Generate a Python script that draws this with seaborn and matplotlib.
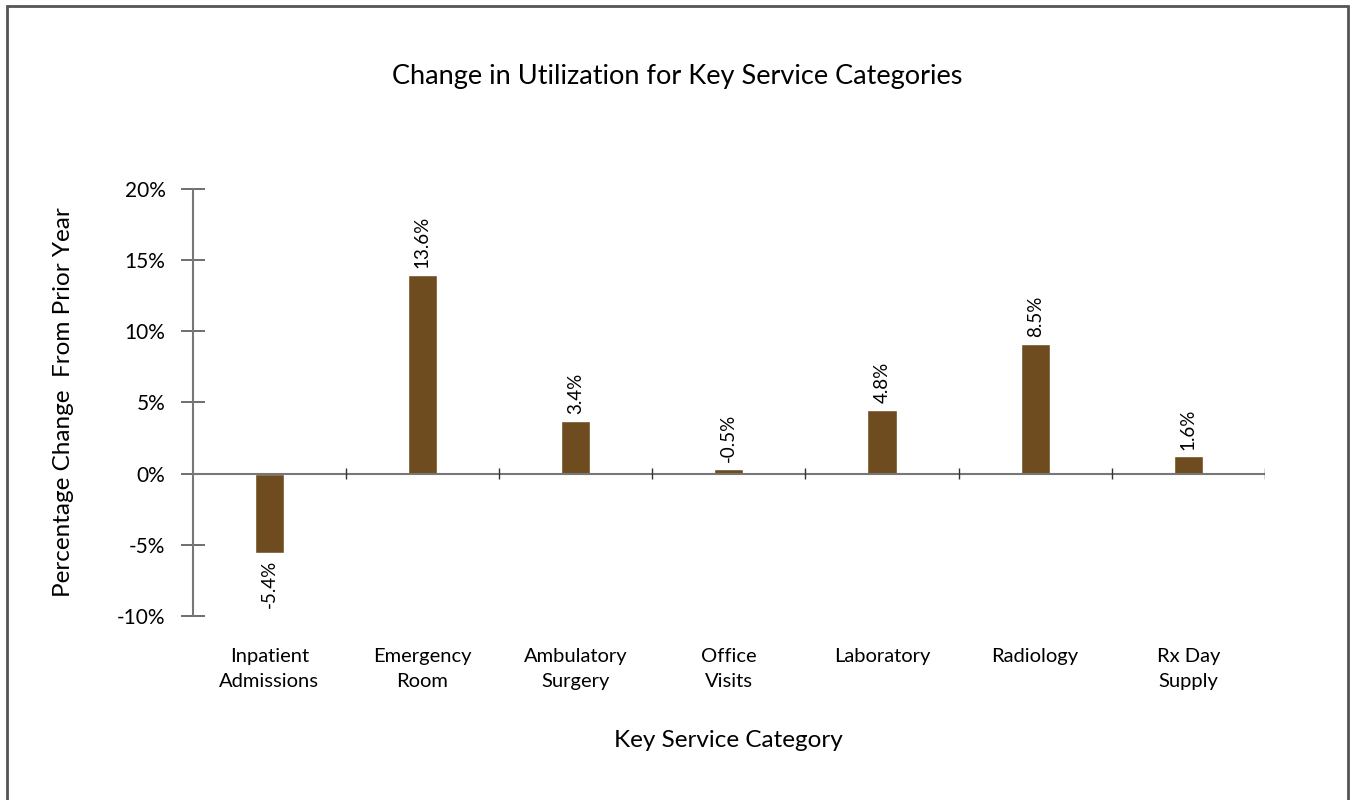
import pandas as pd
import matplotlib.pyplot as plt
import matplotlib.patches as mpatches
import seaborn as sns

# ----------- DONNÉES ------------
categories = ['Inpatient\nAdmissions', 'Emergency\nRoom', 'Ambulatory\nSurgery',
              'Office\nVisits', 'Laboratory', 'Radiology', 'Rx Day\nSupply']
bar_values = [-5.6, 14.0, 3.7, 0.3, 4.5, 9.1, 1.2]
bar_labels = ['-5.4%', '13.6%', '3.4%', '-0.5%', '4.8%', '8.5%', '1.6%']
y_ticks = [-10, -5, 0, 5, 10, 15, 20]

df = pd.DataFrame({'category': categories, 'value': bar_values})

sns.set_style('white')
plt.rcParams['font.family'] = ['Lato', 'DejaVu Sans']
plt.rcParams['text.color'] = 'black'
plt.rcParams['axes.labelcolor'] = 'black'
plt.rcParams['xtick.color'] = 'black'
plt.rcParams['ytick.color'] = 'black'

fig = plt.figure(figsize=(13.51, 8), dpi=100)
ax = fig.add_axes([0.1426, 0.2304, 0.7937, 0.533])

sns.barplot(data=df, x='category', y='value', color='#6e4c20', width=0.19,
            saturation=1, ax=ax)

ax.set_ylim(-10, 20)
ax.set_xlim(-0.5, len(categories) - 0.5)
ax.set_yticks(y_ticks)
ax.set_yticklabels([f'{v}%' for v in y_ticks], fontsize=15)
ax.tick_params(axis='y', left=True, direction='inout', length=17, width=1.2,
               color='#555555', pad=11)
ax.tick_params(axis='x', bottom=False, length=0, pad=23)
for lbl in ax.get_xticklabels():
    lbl.set_fontsize(14.5)
    lbl.set_linespacing(1.6)

for s in ['top', 'right', 'bottom']:
    ax.spines[s].set_visible(False)
ax.spines['left'].set_color('#777777')
ax.spines['left'].set_linewidth(1.5)

# ligne du zéro et séparateurs de catégories
ax.axhline(0, color='#777777', lw=1.5, zorder=1)
bounds = [i + 0.5 for i in range(len(categories))]
ax.vlines(bounds, -0.4, 0.4, color='#333333', lw=1)

# étiquettes des barres
for i, (v, lab) in enumerate(zip(bar_values, bar_labels)):
    if v >= 0:
        ax.annotate(lab, (i, v), xytext=(0, 5), textcoords='offset points',
                    rotation=90, ha='center', va='bottom', fontsize=13.5)
    else:
        ax.annotate(lab, (i, v), xytext=(0, -5), textcoords='offset points',
                    rotation=90, ha='center', va='top', fontsize=13.5)

ax.set_xlabel('Key Service Category', fontsize=17.5, labelpad=29)
ax.set_ylabel('Percentage Change  From Prior Year', fontsize=17.5, labelpad=31)
fig.text(0.501, 0.904, 'Change in Utilization for Key Service Categories',
         ha='center', va='center', fontsize=19.5)

# cadre autour de la figure
frame = mpatches.Rectangle((7 / 1351, -0.05), (1348 - 7) / 1351, 1.05 - 6 / 800,
                           transform=fig.transFigure, fill=False,
                           edgecolor='#555555', lw=2, clip_on=False)
fig.patches.append(frame)

plt.savefig('out.png', dpi=100)
